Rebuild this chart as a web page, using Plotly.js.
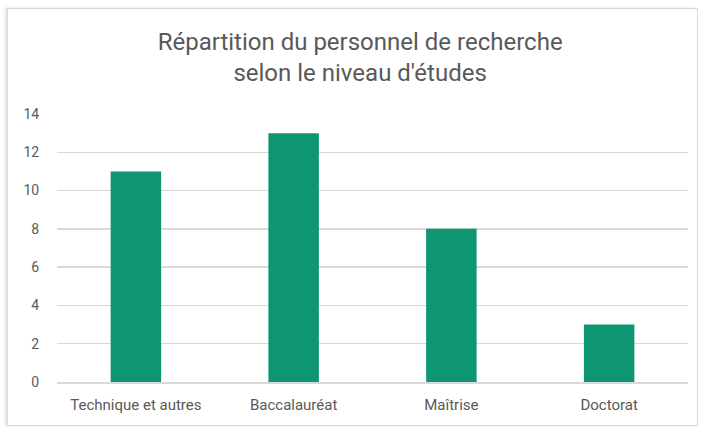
<!DOCTYPE html>
<html><head><meta charset="utf-8">
<script src="https://cdn.plot.ly/plotly-3.0.1.min.js"></script>
<style>
html,body{margin:0;padding:0;background:#fff;}
#wrap{position:relative;width:702px;height:427px;}
#frame{position:absolute;left:7px;top:8px;width:689px;height:416px;border:1.5px solid #d9d9d9;box-shadow:-2px 0 3px rgba(0,0,0,0.12);pointer-events:none;}
#chart{position:absolute;left:0;top:0;width:702px;height:427px;}
</style></head>
<body><div id="wrap"><div id="chart"></div><div id="frame"></div></div>
<script>
const categories = ["Technique et autres", "Baccalauréat", "Maîtrise", "Doctorat"];
const values = [11, 13, 8, 3];
const yTicks = [0, 2, 4, 6, 8, 10, 12, 14];

Plotly.newPlot('chart', [{
  type: 'bar', x: categories, y: values,
  marker: {color: '#0e9673', line: {color: '#0e9673', width: 0}},
  hoverinfo: 'skip'
}], {
  width: 702, height: 427,
  margin: {l: 57, r: 14, t: 114, b: 45},
  paper_bgcolor: 'rgba(0,0,0,0)', plot_bgcolor: 'rgba(0,0,0,0)',
  bargap: 0.68,
  font: {family: 'Roboto, "Open Sans", sans-serif', color: '#595959'},
  title: {text: 'Répartition du personnel de recherche<br>selon le niveau d\'études',
    font: {size: 24, color: '#595959', family: 'Roboto, sans-serif', lineposition: 'none'},
    x: 0.513, xanchor: 'center', y: 0.883, yanchor: 'top', yref: 'container'},
  xaxis: {showgrid: false, showline: true, linecolor: '#d9d9d9', linewidth: 1.5,
    tickfont: {size: 15, color: '#595959'}, ticks: 'outside', ticklen: 8, tickcolor: 'rgba(0,0,0,0)', fixedrange: true},
  yaxis: {range: [0, 14], tickvals: yTicks, showgrid: true, gridcolor: '#d9d9d9', gridwidth: 1.5,
    zeroline: false, showline: false, ticks: 'outside', ticklen: 14, tickcolor: 'rgba(0,0,0,0)',
    tickfont: {size: 14, color: '#595959'}, fixedrange: true},
  showlegend: false
}, {displayModeBar: false, staticPlot: true});
</script></body></html>
